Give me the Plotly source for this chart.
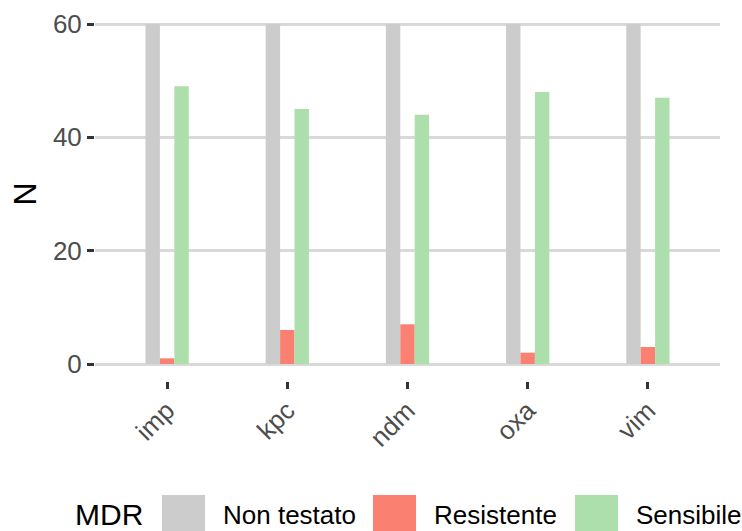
import plotly.graph_objects as go

# ---- data ----
genes = ["imp", "kpc", "ndm", "oxa", "vim"]
non_testato = [60, 60, 60, 60, 60]
resistente = [1, 6, 7, 2, 3]
sensibile = [49, 45, 44, 48, 47]
series_names = ["Non testato", "Resistente", "Sensibile"]
series_values = [non_testato, resistente, sensibile]
series_colors = ["#CCCCCC", "#FA8072", "#ADDFAD"]
legend_title = "MDR"
y_title = "N"
y_ticks = [0, 20, 40, 60]

FONT = "Liberation Sans, Arial, Helvetica, sans-serif"
W, H = 742, 531
L, R, T, B = 95, 22, 7, 150
PW, PH = W - L - R, H - T - B

fig = go.Figure()
for name, vals, col in zip(series_names, series_values, series_colors):
    fig.add_trace(go.Bar(x=genes, y=vals, name=name, marker_color=col,
                         marker_line_width=0, showlegend=False))

def px_x(px):
    return (px - L) / PW

def px_y(py):
    return (H - B - py) / PH

# manual ggplot-like legend
shapes = []
annotations = []
annotations.append(dict(text=legend_title, x=px_x(73), y=px_y(514), xref="paper", yref="paper",
                        xanchor="left", yanchor="middle", showarrow=False,
                        font=dict(family=FONT, size=30, color="black")))
key_lefts = [162, 373, 575]
key_size = 43
for name, col, kx in zip(series_names, series_colors, key_lefts):
    shapes.append(dict(type="rect", xref="paper", yref="paper",
                       x0=px_x(kx), x1=px_x(kx + key_size),
                       y0=px_y(495), y1=px_y(495 + key_size),
                       fillcolor=col, line=dict(width=0), layer="above"))
    annotations.append(dict(text=name, x=px_x(kx + key_size + 17), y=px_y(515),
                            xref="paper", yref="paper", xanchor="left", yanchor="middle",
                            showarrow=False, borderpad=0,
                            font=dict(family=FONT, size=26, color="black")))

fig.update_layout(
    width=W, height=H,
    margin=dict(l=L, r=R, t=T, b=B, pad=0),
    paper_bgcolor="white", plot_bgcolor="white",
    barmode="group", bargap=0.64, bargroupgap=0,
    font=dict(family=FONT, size=26, color="#4D4D4D"),
    shapes=shapes, annotations=annotations,
    xaxis=dict(type="category", range=[-0.6, 4.6], showgrid=False, zeroline=False,
               showline=False, ticks="outside", ticklen=7, tickwidth=3, tickcolor="#333333",
               tickangle=-45, ticklabelstandoff=-4,
               tickfont=dict(family=FONT, size=26, color="#4D4D4D")),
    yaxis=dict(range=[-3, 63], tickvals=y_ticks, showgrid=True, gridcolor="#D9D9D9",
               gridwidth=3, zeroline=False, showline=False, ticks="outside", ticklen=7,
               tickwidth=3, tickcolor="#333333",
               tickfont=dict(family=FONT, size=26, color="#4D4D4D"),
               title=dict(text=y_title, standoff=6, font=dict(family=FONT, size=32, color="black"))),
)

fig.write_html("out.html", config={"displayModeBar": False},
               post_script="document.body.style.margin='0';document.body.style.overflow='hidden';")
